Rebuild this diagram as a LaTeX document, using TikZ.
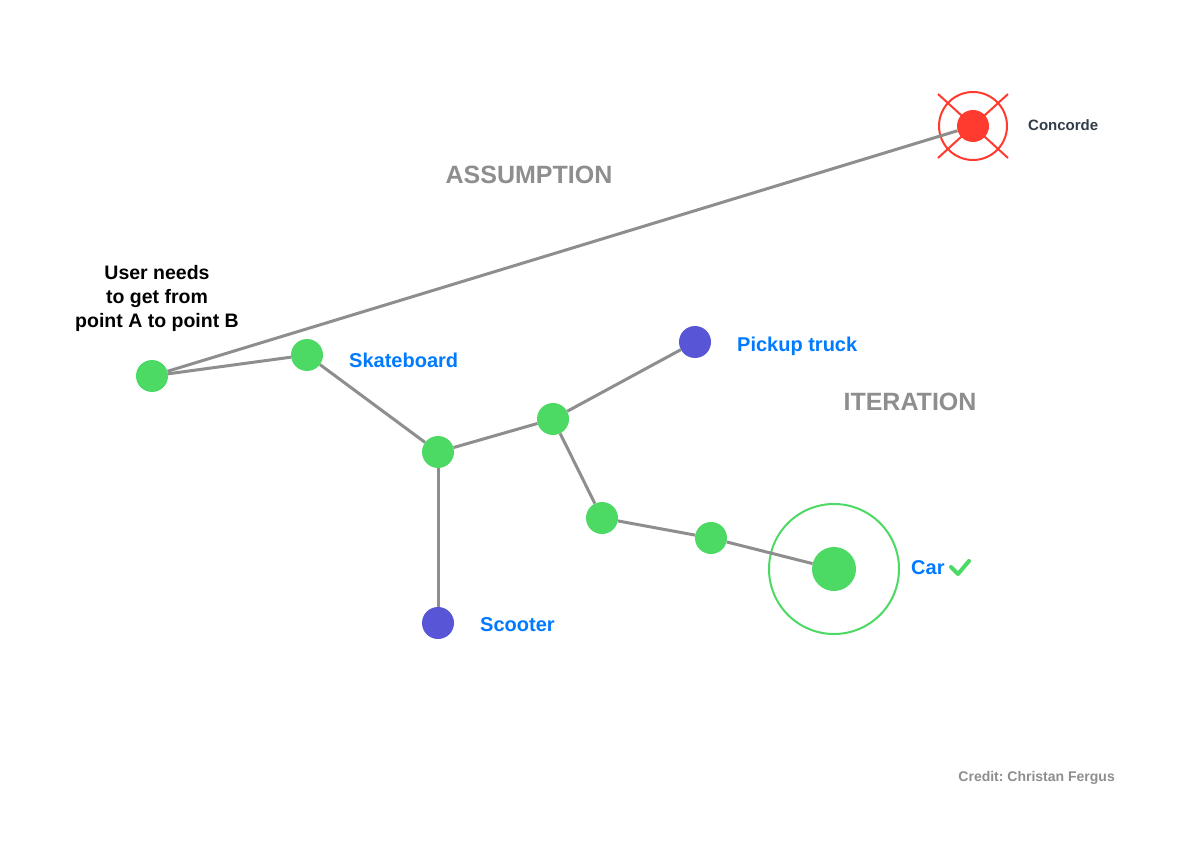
\documentclass[tikz,border=0pt]{standalone}
\usepackage{fontspec}
\setmainfont{Liberation Sans}
\frenchspacing
\definecolor{dotgreen}{HTML}{4CD964}
\definecolor{dotpurple}{HTML}{5856D6}
\definecolor{dotred}{HTML}{FF3B30}
\definecolor{lblblue}{HTML}{007AFF}
\definecolor{linegray}{HTML}{8E8E8E}
\definecolor{darktext}{HTML}{333D4A}
\tikzset{
  dot/.style={circle, fill=#1, inner sep=0pt, minimum size=32pt},
  link/.style={draw=linegray, line width=3pt},
  lbl/.style={font=\fontsize{20}{24}\selectfont\bfseries, text=lblblue, anchor=base west, inner sep=0pt},
  heading/.style={font=\fontsize{25}{30}\selectfont\bfseries, text=linegray, anchor=base, inner sep=0pt},
}
\begin{document}
\begin{tikzpicture}[x=1pt,y=-1pt]
\path[use as bounding box, fill=white] (0,0) rectangle (1191,842);
% nodes
\node[dot=dotgreen] (start) at (152,376) {};
\node[dot=dotgreen] (skate) at (307,355) {};
\node[dot=dotgreen] (hubA) at (438,452) {};
\node[dot=dotpurple] (scooter) at (438,623) {};
\node[dot=dotgreen] (hubB) at (553,419) {};
\node[dot=dotpurple] (pickup) at (695,342) {};
\node[dot=dotgreen] (midA) at (602,518) {};
\node[dot=dotgreen] (midB) at (711,538) {};
\node[dot=dotgreen, minimum size=44pt] (car) at (834,569) {};
\node[dot=dotred] (concorde) at (973,126) {};
\node[circle, draw=dotgreen, line width=2pt, minimum size=130pt, inner sep=0pt] (carring) at (car) {};
\node[circle, draw=dotred, line width=2pt, minimum size=68pt, inner sep=0pt] (concring) at (concorde) {};
\coordinate (xa) at (938,94);
\coordinate (xb) at (1008,158);
\coordinate (xc) at (1008,94);
\coordinate (xd) at (938,158);
\draw[dotred, line width=2pt] (xa) -- (xb);
\draw[dotred, line width=2pt] (xc) -- (xd);
% connectors
\draw[link] (start) -- (concorde);
\draw[link] (start) -- (skate);
\draw[link] (skate) -- (hubA);
\draw[link] (hubA) -- (scooter);
\draw[link] (hubA) -- (hubB);
\draw[link] (hubB) -- (pickup);
\draw[link] (hubB) -- (midA);
\draw[link] (midA) -- (midB);
\draw[link] (midB) -- (car);
% labels
\node[font=\fontsize{19.5}{24}\selectfont\bfseries, align=center, inner sep=0pt] (goal) at (157,298) {User needs\\to get from\\point A to point B};
\node[lbl] (skatelbl) at (349,367) {Skateboard};
\node[lbl] (pickuplbl) at (737,351) {Pickup truck};
\node[lbl] (scooterlbl) at (480,631) {Scooter};
\node[lbl] (carlbl) at (911,574) {Car};
\coordinate (cka) at (951,567);
\coordinate (ckb) at (958,574);
\coordinate (ckc) at (969,561);
\draw[dotgreen, line width=4pt, line cap=round, line join=round] (cka) -- (ckb) -- (ckc);
\node[font=\fontsize{15}{18}\selectfont\bfseries, text=darktext, anchor=base west, inner sep=0pt] (conclbl) at (1028,131) {Concorde};
\node[heading] (assume) at (529,184) {ASSUMPTION};
\node[heading] (iterate) at (910,410) {ITERATION};
\node[font=\fontsize{14}{17}\selectfont\bfseries, text=linegray, anchor=base east, inner sep=0pt] (credit) at (1115,781) {Credit: Christan Fergus};
\end{tikzpicture}
\end{document}
